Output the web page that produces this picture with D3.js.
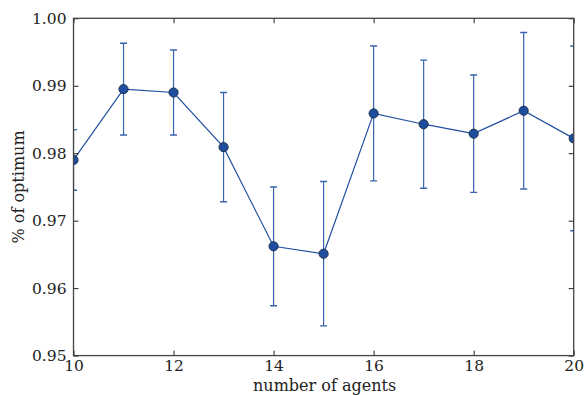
<!DOCTYPE html>
<html><head><meta charset="utf-8">
<script src="https://cdn.jsdelivr.net/npm/d3@7"></script>
<style>body{margin:0;background:#fff}svg{display:block}</style>
</head><body><svg id="c" width="586" height="395"></svg>
<script>
const agents = [10, 11, 12, 13, 14, 15, 16, 17, 18, 19, 20];
const means  = [0.9790, 0.9895, 0.9890, 0.9809, 0.9662, 0.9651, 0.9859, 0.9843, 0.9829, 0.9863, 0.9822];
const errs   = [0.0045, 0.0068, 0.0063, 0.0081, 0.0088, 0.0107, 0.0100, 0.0095, 0.0087, 0.0116, 0.0137];
const xTicks = [10, 12, 14, 16, 18, 20];
const yTicks = [0.95, 0.96, 0.97, 0.98, 0.99, 1.00];

const svg = d3.select('#c');
const L = 73.5, R = 573.7, T = 18.3, B = 355.6;
const x = d3.scaleLinear().domain([10, 20]).range([L, R]);
const y = d3.scaleLinear().domain([0.95, 1.00]).range([B, T]);
const font = '"DejaVu Serif", serif';
const lineCol = '#2150a0', errCol = '#3863b0', axCol = '#444';

svg.append('defs').append('clipPath').attr('id', 'clip')
  .append('rect').attr('x', L).attr('y', T).attr('width', R - L).attr('height', B - T);

const g = svg.append('g').attr('clip-path', 'url(#clip)');
const data = agents.map((a, i) => ({a, m: means[i], e: errs[i]}));

// error bars
g.selectAll('.eb').data(data).enter().append('line').attr('class', 'eb')
  .attr('x1', d => x(d.a)).attr('x2', d => x(d.a))
  .attr('y1', d => y(d.m - d.e)).attr('y2', d => y(d.m + d.e))
  .attr('stroke', errCol).attr('stroke-width', 1.2);
[['capHi', 1], ['capLo', -1]].forEach(([cls, s]) => {
  g.selectAll('.' + cls).data(data).enter().append('line').attr('class', cls)
    .attr('x1', d => x(d.a) - 3.5).attr('x2', d => x(d.a) + 3.5)
    .attr('y1', d => y(d.m + s * d.e))
    .attr('y2', d => y(d.m + s * d.e))
    .attr('stroke', errCol).attr('stroke-width', 1.4);
});

// line
g.append('path').datum(data)
  .attr('d', d3.line().x(d => x(d.a)).y(d => y(d.m)))
  .attr('fill', 'none').attr('stroke', lineCol).attr('stroke-width', 1.2);

// markers
g.selectAll('circle').data(data).enter().append('circle')
  .attr('cx', d => x(d.a)).attr('cy', d => y(d.m)).attr('r', 4.6)
  .attr('fill', '#1f4e9e').attr('stroke', '#1a2a44').attr('stroke-width', 0.9);

// axes with inward ticks
const axB = svg.append('g').attr('transform', `translate(0,${B})`)
  .call(d3.axisBottom(x).tickValues(xTicks).tickFormat(d3.format('d')).tickSize(-5).tickPadding(6));
const axT = svg.append('g').attr('transform', `translate(0,${T})`)
  .call(d3.axisTop(x).tickValues(xTicks).tickFormat('').tickSize(-5));
const axL = svg.append('g').attr('transform', `translate(${L},0)`)
  .call(d3.axisLeft(y).tickValues(yTicks).tickFormat(d3.format('.2f')).tickSize(-5).tickPadding(7));
const axR = svg.append('g').attr('transform', `translate(${R},0)`)
  .call(d3.axisRight(y).tickValues(yTicks).tickFormat('').tickSize(-5));
[axB, axT, axL, axR].forEach(a => {
  a.select('.domain').remove();
  a.selectAll('.tick line').attr('stroke', '#222').attr('stroke-width', 1);
  a.selectAll('text').attr('font-family', font).attr('font-size', 15.5).attr('fill', '#222');
});
axB.selectAll('text').attr('dy', '0.62em');

// frame
svg.append('rect').attr('x', L).attr('y', T).attr('width', R - L).attr('height', B - T)
  .attr('fill', 'none').attr('stroke', axCol).attr('stroke-width', 1.3);

// labels
svg.append('text').attr('x', (L + R) / 2 + 1).attr('y', 391).attr('text-anchor', 'middle')
  .attr('font-family', font).attr('font-size', 16).attr('fill', '#222').text('number of agents');
svg.append('text').attr('transform', `translate(24,${(T + B) / 2}) rotate(-90)`)
  .attr('text-anchor', 'middle')
  .attr('font-family', font).attr('font-size', 16).attr('fill', '#222').text('% of optimum');
</script></body></html>
